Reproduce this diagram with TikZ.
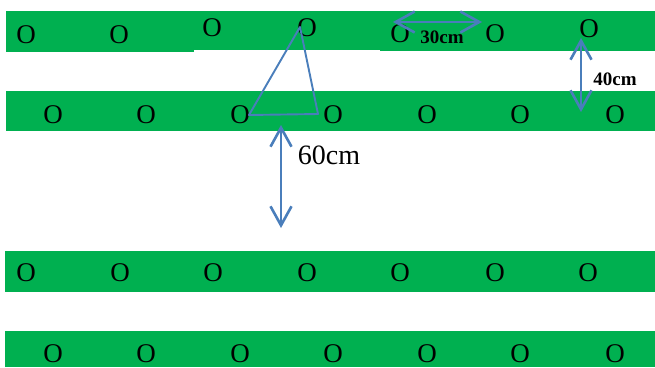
\documentclass[tikz,border=0pt]{standalone}
\usepackage{fontspec}
\setmainfont{Liberation Serif}
\usetikzlibrary{arrows.meta}
\definecolor{bandgreen}{HTML}{00B050}
\definecolor{arrowblue}{HTML}{4A7EBB}
\begin{document}
\begin{tikzpicture}[x=1pt,y=-1pt,
 band/.style={fill=bandgreen,draw=none},
 plant/.style={inner sep=0pt,font=\fontsize{27}{27}\selectfont},
 dimarrow/.style={draw=arrowblue,line width=2.6pt,{Straight Barb[length=19pt,width=21pt]}-{Straight Barb[length=19pt,width=21pt]}},
 tri/.style={draw=arrowblue,line width=1.9pt,line join=round},
 smalllabel/.style={inner sep=0pt,font=\fontsize{19}{19}\selectfont\bfseries},
 biglabel/.style={inner sep=0pt,font=\fontsize{28}{28}\selectfont},
]
\useasboundingbox (0,0) rectangle (655,367);
% bands
\fill[band] (6,11) rectangle (194,52);
\fill[band] (194,11) rectangle (380,50);
\fill[band] (380,11) rectangle (655,51);
\fill[band] (6,91) rectangle (655,131);
\fill[band] (5,251) rectangle (655,292);
\fill[band] (5,331) rectangle (655,367);
% row 1
\node[plant] (a1) at (26,35) {O};
\node[plant] (a2) at (119,35) {O};
\node[plant] (a3) at (212,28) {O};
\node[plant] (a4) at (307,28) {O};
\node[plant] (a5) at (400,34) {O};
\node[plant] (a6) at (495,34) {O};
\node[plant] (a7) at (589,29) {O};
% row 2
\node[plant] (b1) at (53,115) {O};
\node[plant] (b2) at (146,115) {O};
\node[plant] (b3) at (240,115) {O};
\node[plant] (b4) at (333,115) {O};
\node[plant] (b5) at (427,115) {O};
\node[plant] (b6) at (520,115) {O};
\node[plant] (b7) at (615,115) {O};
% row 3
\node[plant] (c1) at (26,273) {O};
\node[plant] (c2) at (120,273) {O};
\node[plant] (c3) at (213,273) {O};
\node[plant] (c4) at (307,273) {O};
\node[plant] (c5) at (400,273) {O};
\node[plant] (c6) at (495,273) {O};
\node[plant] (c7) at (588,273) {O};
% row 4
\node[plant] (d1) at (53,353.5) {O};
\node[plant] (d2) at (146,353.5) {O};
\node[plant] (d3) at (240,353.5) {O};
\node[plant] (d4) at (333,353.5) {O};
\node[plant] (d5) at (427,353.5) {O};
\node[plant] (d6) at (520,353.5) {O};
\node[plant] (d7) at (615,353.5) {O};
% triangle
\coordinate (tTop) at (300,27);
\coordinate (tLeft) at (249,115);
\coordinate (tRight) at (318,114);
\draw[tri] (tTop) -- (tLeft) -- (tRight) -- cycle;
% 30cm
\coordinate (h1) at (393,22);
\coordinate (h2) at (482,22);
\draw[dimarrow] (h1) -- (h2);
\node[smalllabel] (l30) at (442,37) {30cm};
% 40cm
\coordinate (v1) at (581,38);
\coordinate (v2) at (581,112);
\draw[dimarrow] (v1) -- (v2);
\node[smalllabel] (l40) at (615,79) {40cm};
% 60cm
\coordinate (w1) at (281,125);
\coordinate (w2) at (281,228);
\draw[dimarrow] (w1) -- (w2);
\node[biglabel] (l60) at (329,155) {60cm};
\end{tikzpicture}
\end{document}
